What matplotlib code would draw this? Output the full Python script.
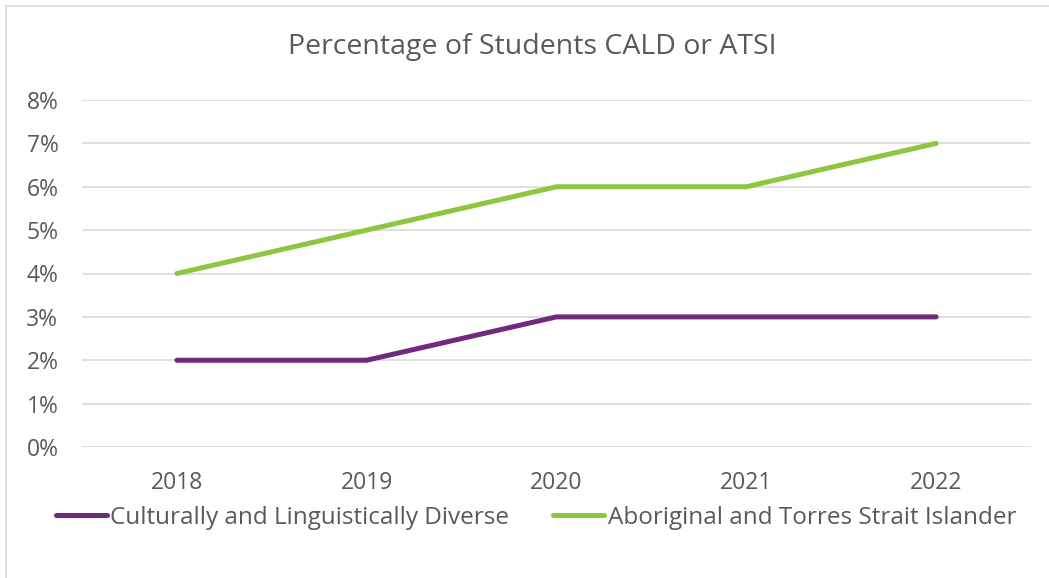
import matplotlib
matplotlib.use("Agg")
from matplotlib import pyplot as plt
from matplotlib.patches import Rectangle
from matplotlib.ticker import PercentFormatter

years = ["2018", "2019", "2020", "2021", "2022"]
cald = [0.02, 0.02, 0.03, 0.03, 0.03]
atsi = [0.04, 0.05, 0.06, 0.06, 0.07]
labels = ["Culturally and Linguistically Diverse", "Aboriginal and Torres Strait Islander"]

plt.rcParams["font.family"] = ["Open Sans", "DejaVu Sans"]
txt = "#595959"

fig = plt.figure(figsize=(10.49, 5.78), dpi=100)
ax = fig.add_axes([82 / 1049, 1 - 447 / 578, (1031 - 82) / 1049, (447 - 100) / 578])

x = range(len(years))
ax.plot(x, cald, color="#702A7C", lw=3.6, solid_capstyle="round", label=labels[0])
ax.plot(x, atsi, color="#8DC63F", lw=3.6, solid_capstyle="round", label=labels[1])

ax.set_xlim(-0.5, len(years) - 0.5)
ax.set_ylim(0, 0.08)
ax.set_yticks([i / 100 for i in range(9)])
ax.yaxis.set_major_formatter(PercentFormatter(1.0, decimals=0))
ax.set_xticks(list(x))
ax.set_xticklabels(years)
ax.tick_params(length=0, labelsize=16.5, colors=txt)
ax.tick_params(axis="y", pad=17)
ax.tick_params(axis="x", pad=17)
ax.grid(axis="y", color="#d9d9d9", lw=1.2)
ax.set_axisbelow(True)
for s in ax.spines.values():
    s.set_visible(False)

fig.text(532 / 1049, 1 - 47 / 578, "Percentage of Students CALD or ATSI",
         ha="center", va="center", fontsize=20.5, color=txt)

fig.legend(loc="center", bbox_to_anchor=(536 / 1049, 1 - 518 / 578), ncol=2,
           frameon=False, fontsize=17.5, labelcolor=txt, handlelength=2.1,
           handletextpad=0.15, columnspacing=1.8)

fig.patches.append(Rectangle((6 / 1049, -0.1), 1.2, 1 - 6 / 578 + 0.1,
                             transform=fig.transFigure, fill=False,
                             edgecolor="#d9d9d9", lw=1.2))

fig.savefig("out.png", dpi=100)
